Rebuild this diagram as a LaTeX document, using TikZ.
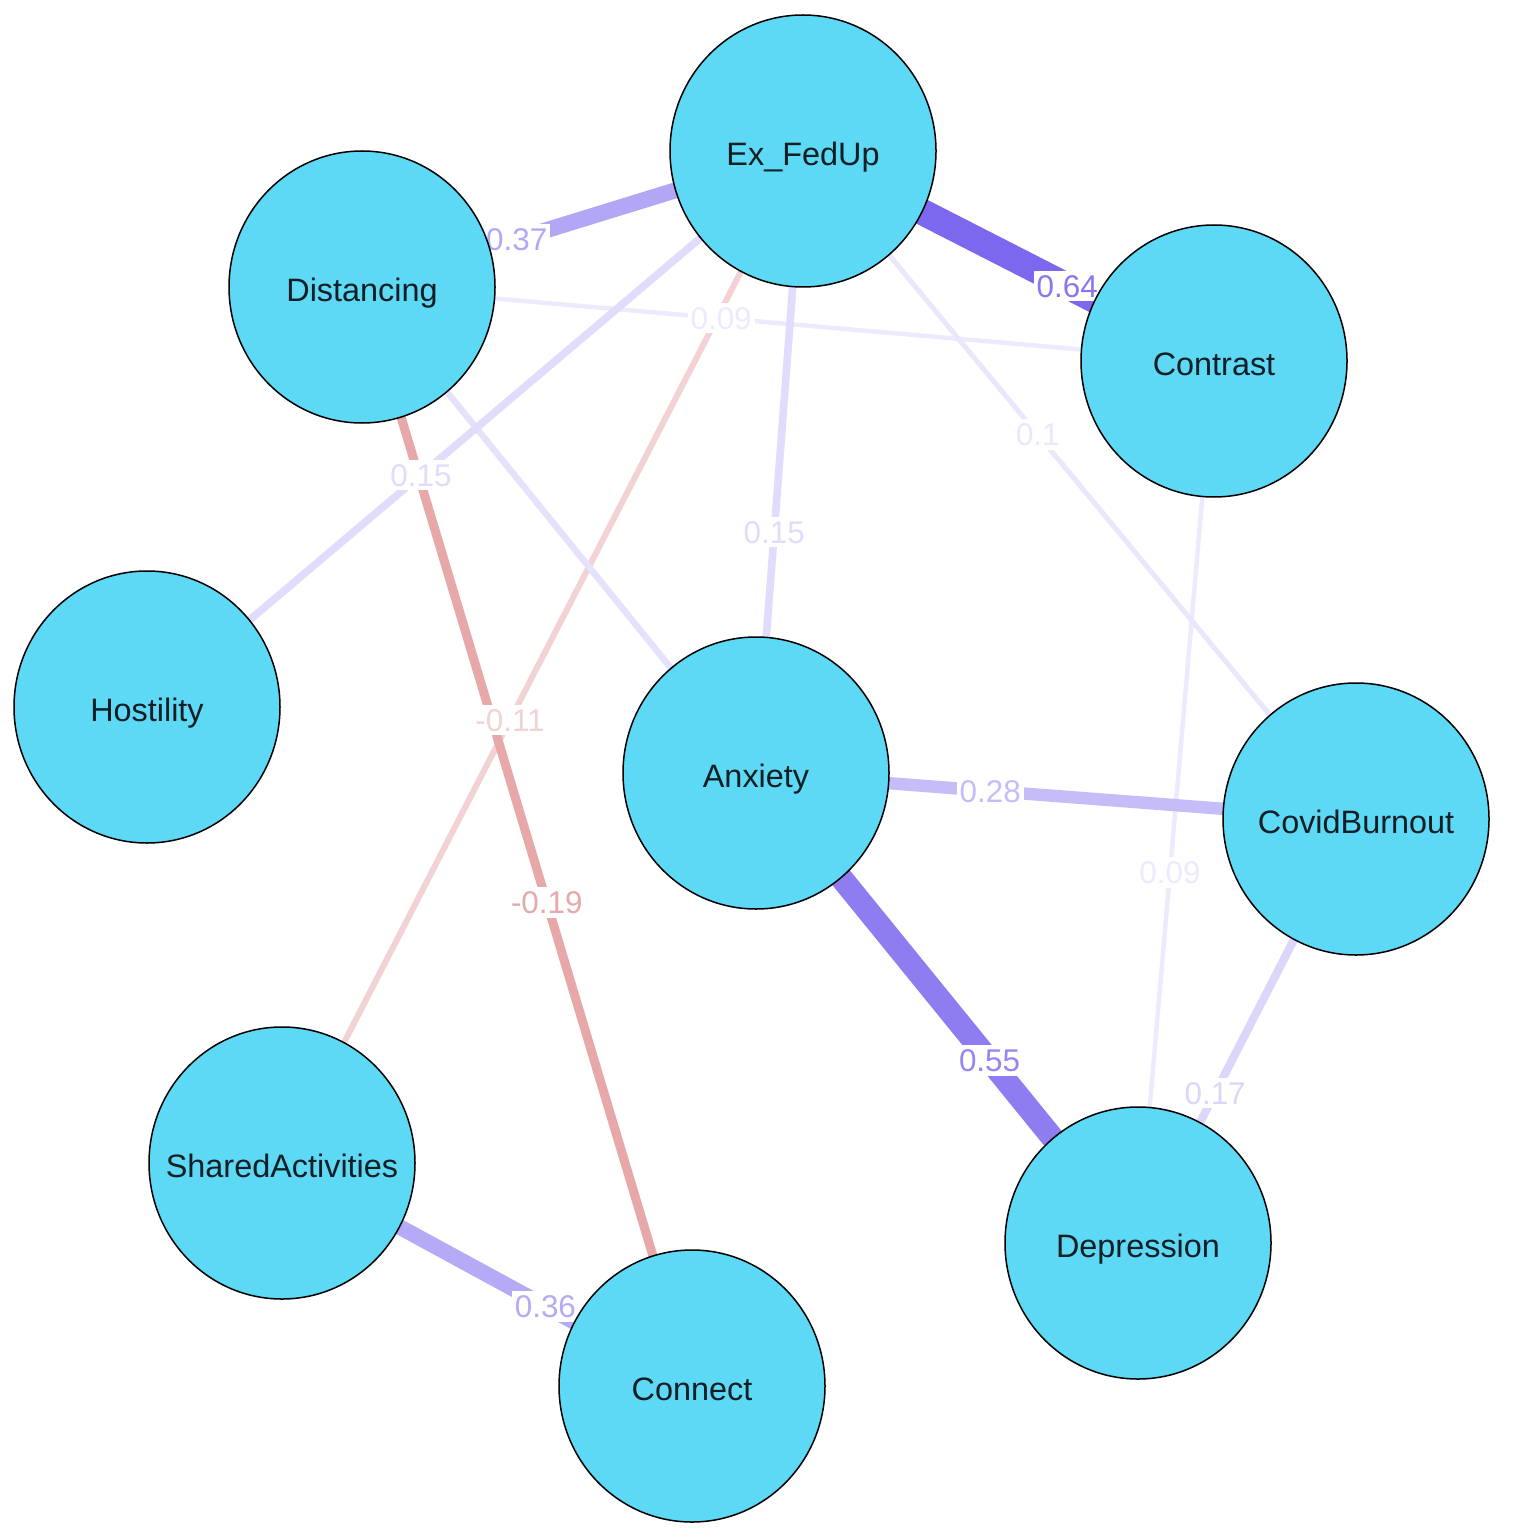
\documentclass[tikz,border=0pt]{standalone}
\usepackage{fontspec}
\setmainfont{Liberation Sans}
\usetikzlibrary{calc,shapes.geometric}
\pgfdeclarelayer{edgelayer}
\pgfdeclarelayer{labellayer}
\pgfsetlayers{edgelayer,labellayer,main}
\definecolor{posc}{HTML}{7B68EE}
\definecolor{nodec}{HTML}{5DD8F5}
\definecolor{negA}{HTML}{E6A8A8}
\definecolor{negB}{HTML}{F2D2D2}
\definecolor{ntext}{HTML}{111E24}
\newcommand\nlab[1]{\makebox[0pt][c]{\raisebox{-1.5pt}{#1}}}
\tikzset{
  vnode/.style={ellipse, draw=black, line width=0.75pt, fill=nodec, minimum width=133pt, minimum height=136pt, inner sep=0pt, text height=11.6pt, text depth=0pt, text=ntext, font=\fontsize{16.2}{19}\selectfont},
  elab/.style={fill=white, inner xsep=1.5pt, inner ysep=2pt, text height=11.3pt, text depth=0pt, font=\fontsize{15.7}{18}\selectfont},
  e64/.style={line width=13.1pt, draw=posc},
  e55/.style={line width=11.4pt, draw=posc!86!white},
  e37/.style={line width=8pt, draw=posc!58!white},
  e36/.style={line width=7.8pt, draw=posc!56!white},
  e28/.style={line width=6.2pt, draw=posc!44!white},
  e17/.style={line width=4.1pt, draw=posc!27!white},
  e15/.style={line width=3.8pt, draw=posc!23!white},
  e12/.style={line width=3.2pt, draw=posc!19!white},
  e10/.style={line width=2.5pt, draw=posc!16!white},
  e09/.style={line width=2.2pt, draw=posc!14!white},
  n19/.style={line width=4.5pt, draw=negA},
  n11/.style={line width=3pt, draw=negB},
}
\begin{document}
\begin{tikzpicture}[x=0.5pt, y=-0.5pt]
\useasboundingbox (0,0) rectangle (1524,1540);
% nodes
\node[vnode] (E) at (803,151) {\nlab{Ex\_FedUp}};
\node[vnode] (D) at (362,287) {\nlab{Distancing}};
\node[vnode] (C) at (1214,361) {\nlab{Contrast}};
\node[vnode] (H) at (147,707) {\nlab{Hostility}};
\node[vnode] (A) at (756,773) {\nlab{Anxiety}};
\node[vnode] (B) at (1356,819) {\nlab{CovidBurnout}};
\node[vnode] (S) at (282,1163) {\nlab{SharedActivities}};
\node[vnode] (P) at (1138,1243) {\nlab{Depression}};
\node[vnode] (N) at (692,1386) {\nlab{Connect}};
% edges
\begin{pgfonlayer}{edgelayer}
\fill[white] (0,0) rectangle (1524,1540);
\draw[e09] (D.center) -- (C.center);
\draw[e09] (C.center) -- (P.center);
\draw[e10] (E.center) -- (B.center);
\draw[n11] (E.center) -- (S.center);
\draw[e12] (D.center) -- (A.center);
\draw[e15] (E.center) -- (H.center);
\draw[e15] (E.center) -- (A.center);
\draw[e17] (B.center) -- (P.center);
\draw[n19] (D.center) -- (N.center);
\draw[e28] (A.center) -- (B.center);
\draw[e36] (S.center) -- (N.center);
\draw[e37] (E.center) -- (D.center);
\draw[e55] (A.center) -- (P.center);
\draw[e64] (E.center) -- (C.center);
\end{pgfonlayer}
% edge labels
\begin{pgfonlayer}{labellayer}
\node[elab, text=posc!58!white] (l1) at ($(E)!0.649!(D)$) {0.37};
\node[elab, text=posc!90!white] (l2) at ($(E)!0.643!(C)$) {0.64};
\node[elab, text=posc!14!white] (l3) at ($(D)!0.4215!(C)$) {0.09};
\node[elab, text=posc!23!white] (l4) at ($(E)!0.5824!(H)$) {0.15};
\node[elab, text=negB] (l5) at ($(E)!0.5623!(S)$) {-0.11};
\node[elab, text=posc!23!white] (l6) at ($(E)!0.6127!(A)$) {0.15};
\node[elab, text=posc!16!white] (l7) at ($(E)!0.4246!(B)$) {0.1};
\node[elab, text=negA] (l8) at ($(D)!0.56!(N)$) {-0.19};
\node[elab, text=posc!14!white] (l9) at ($(C)!0.5796!(P)$) {0.09};
\node[elab, text=posc!44!white] (l10) at ($(A)!0.3903!(B)$) {0.28};
\node[elab, text=posc!80!white] (l11) at ($(A)!0.6114!(P)$) {0.55};
\node[elab, text=posc!27!white] (l12) at ($(B)!0.6463!(P)$) {0.17};
\node[elab, text=posc!56!white] (l13) at ($(S)!0.6424!(N)$) {0.36};
\end{pgfonlayer}
\end{tikzpicture}
\end{document}
